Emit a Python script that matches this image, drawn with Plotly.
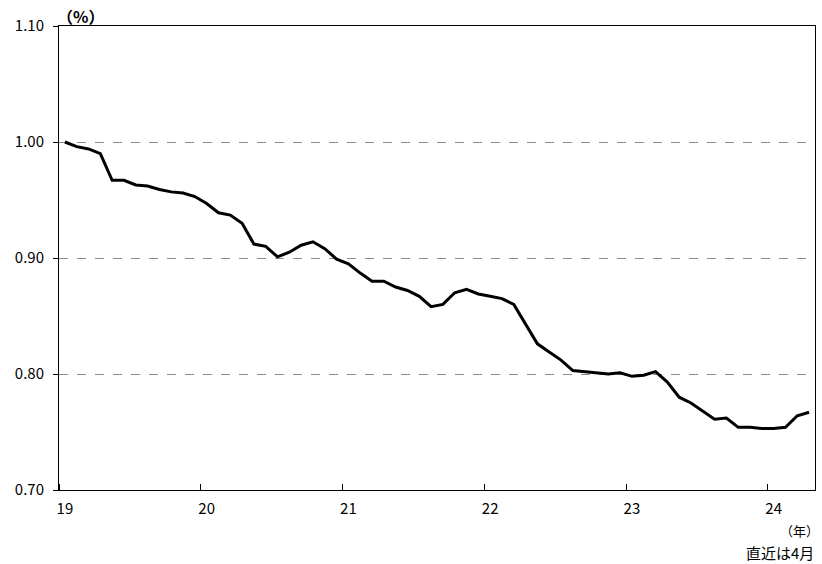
import plotly.graph_objects as go

# Monthly data, Jan 2019 - Apr 2024
years = [2019] * 12 + [2020] * 12 + [2021] * 12 + [2022] * 12 + [2023] * 12 + [2024] * 4
months = list(range(1, 13)) * 5 + [1, 2, 3, 4]
values = [
    1.000, 0.996, 0.994, 0.990, 0.967, 0.967, 0.963, 0.962, 0.959, 0.957, 0.956, 0.953,
    0.947, 0.939, 0.937, 0.930, 0.912, 0.910, 0.901, 0.905, 0.911, 0.914, 0.908, 0.899,
    0.895, 0.887, 0.880, 0.880, 0.875, 0.872, 0.867, 0.858, 0.860, 0.870, 0.873, 0.869,
    0.867, 0.865, 0.860, 0.843, 0.826, 0.819, 0.812, 0.803, 0.802, 0.801, 0.800, 0.801,
    0.798, 0.799, 0.802, 0.793, 0.780, 0.775, 0.768, 0.761, 0.762, 0.754, 0.754, 0.753,
    0.753, 0.754, 0.764, 0.767,
]
year_ticks = [19, 20, 21, 22, 23, 24]
year_labels = ["19", "20", "21", "22", "23", "24"]
y_ticks = [0.70, 0.80, 0.90, 1.00, 1.10]

# position of each month at the middle of its month slot (two-digit year axis)
x = [(y - 2000) + (m - 0.5) / 12 for y, m in zip(years, months)]

FONT = "Noto Sans CJK JP"

fig = go.Figure()
fig.add_trace(go.Scatter(
    x=x, y=values, mode="lines",
    line=dict(color="black", width=3),
    showlegend=False, hoverinfo="skip",
))

fig.update_layout(
    width=822, height=564,
    margin=dict(l=59, r=7, t=26, b=74),
    paper_bgcolor="white", plot_bgcolor="white",
    font=dict(family=FONT, size=15, color="black"),
    xaxis=dict(
        range=[19, 24 + 4 / 12],
        tickvals=[t + 0.5 / 12 for t in year_ticks],
        ticktext=year_labels,
        ticks="", showgrid=False, zeroline=False,
        showline=True, linecolor="black", linewidth=1, mirror=True,
        tickfont=dict(family=FONT, size=15),
        ticklabelstandoff=5,
        minor=dict(tickvals=year_ticks, ticks="inside", ticklen=6,
                   tickcolor="black", tickwidth=1, showgrid=False),
    ),
    yaxis=dict(
        range=[0.70, 1.10],
        tickvals=y_ticks, tickformat=".2f",
        ticks="outside", ticklen=5, tickcolor="black",
        showgrid=True, gridcolor="#8c8c8c", griddash="dash", gridwidth=1,
        zeroline=False,
        showline=True, linecolor="black", linewidth=1, mirror=True,
        tickfont=dict(family=FONT, size=15),
        ticklabelstandoff=6,
    ),
    annotations=[
        dict(text="<b>（%）</b>", xref="paper", yref="paper", x=0.0, y=1.0,
             xanchor="left", yanchor="bottom", showarrow=False,
             font=dict(family=FONT, size=16), xshift=-4, yshift=-4),
        dict(text="（年）", xref="paper", yref="paper", x=1.0, y=0,
             xanchor="right", yanchor="middle", showarrow=False,
             font=dict(family=FONT, size=13), xshift=6, yshift=-40),
        dict(text="直近は4月", xref="paper", yref="paper", x=1.0, y=0,
             xanchor="right", yanchor="middle", showarrow=False,
             font=dict(family=FONT, size=15), xshift=1, yshift=-62),
    ],
)

fig.write_html("out.html", post_script="document.body.style.margin='0';",
               config={"displayModeBar": False})
